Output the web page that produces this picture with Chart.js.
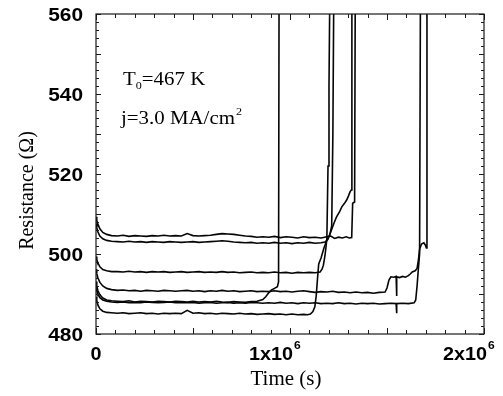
<!DOCTYPE html>
<html>
<head>
<meta charset="utf-8">
<title>Resistance vs time</title>
<script src="https://cdn.jsdelivr.net/npm/chart.js@4.4.1/dist/chart.umd.min.js"></script>
<style>
  html, body { margin: 0; padding: 0; background: #ffffff; }
  #wrap { width: 503px; height: 396px; }
</style>
</head>
<body>
<div id="wrap"><canvas id="chart" width="503" height="396"></canvas></div>
<script>
// Common time grid (s) for the early, stable part of every run
const tBase = [0, 4000, 10000, 20000, 35000, 55000, 80000, 110000, 140000, 170000,
  200000, 230000, 260000, 290000, 320000, 350000, 380000, 410000, 440000, 470000,
  500000, 530000, 560000, 590000, 620000, 650000, 680000, 710000, 740000, 770000,
  800000, 830000, 860000];

// Run 1 (Ω)
const r1 = [509.3, 508.4, 507.4, 506.3, 505.4, 504.9, 504.6, 504.5, 504.7, 504.4,
  504.6, 504.5, 504.4, 504.6, 504.5, 504.7, 504.5, 504.6, 504.5, 505.1,
  504.6, 504.5, 504.6, 504.7, 504.9, 505.1, 505.0, 504.9, 504.7, 504.5,
  504.4, 504.2, 504.3];
const t1Tail = [890000, 920000, 950000, 980000, 1010000, 1040000, 1070000, 1100000, 1130000, 1160000,
  1190000, 1210000, 1230000, 1250000, 1270000, 1290000, 1305000, 1318000, 1323000, 1333000, 1337000];
const r1Tail = [504.2, 504.4, 504.1, 504.3, 504.2, 504.0, 504.3, 504.1, 504.2, 504.0,
  504.3, 504.5, 503.9, 504.2, 504.0, 504.3, 504.0, 504.1, 512.7, 513.0, 575];

// Run 2
const r2 = [507.6, 506.6, 505.5, 504.5, 503.8, 503.4, 503.2, 503.1, 503.0, 503.2,
  503.0, 503.1, 502.9, 503.1, 503.0, 502.9, 503.1, 503.0, 502.9, 503.0,
  503.1, 502.9, 503.0, 503.1, 503.2, 503.3, 503.2, 503.0, 502.9, 502.8,
  502.9, 502.7, 502.8];
const t2Tail = [890000, 920000, 950000, 980000, 1010000, 1040000, 1070000, 1100000, 1130000, 1160000,
  1180000, 1195000, 1210000, 1225000, 1240000, 1255000, 1267000, 1280000, 1292000, 1302000,
  1310000, 1316000, 1319000];
const r2Tail = [502.7, 502.9, 502.7, 502.8, 502.6, 502.8, 502.7, 502.9, 502.7, 502.8,
  503.0, 503.6, 505.5, 507.5, 509.3, 510.5, 511.8, 512.6, 513.5, 514.6,
  515.6, 516.0, 575];

// Run 3
const r3 = [499.4, 498.6, 497.7, 496.8, 496.1, 495.8, 495.6, 495.6, 495.5, 495.7,
  495.5, 495.6, 495.4, 495.6, 495.5, 495.6, 495.4, 495.5, 495.6, 495.4,
  495.5, 495.6, 495.4, 495.5, 495.4, 495.6, 495.4, 495.5, 495.3, 495.4,
  495.5, 495.3, 495.4];
const t3Tail = [890000, 920000, 950000, 980000, 1010000, 1040000, 1070000, 1100000, 1130000, 1155000,
  1165000, 1172000, 1180000, 1185000, 1190000, 1196000, 1201000, 1207000];
const r3Tail = [495.3, 495.5, 495.3, 495.4, 495.2, 495.4, 495.3, 495.4, 495.3, 495.5,
  496.2, 497.2, 499.5, 501.5, 503.8, 522.0, 542.0, 575];

// Run 4
const r4 = [496.2, 495.1, 494.0, 492.9, 492.0, 491.4, 491.1, 490.9, 491.0, 490.8,
  490.9, 490.7, 490.9, 490.8, 490.7, 490.9, 490.8, 490.7, 490.8, 490.9,
  490.7, 490.8, 490.6, 490.8, 490.7, 490.9, 490.7, 490.8, 490.6, 490.7,
  490.8, 490.6, 490.7];
const t4Tail = [890000, 920000, 950000, 980000, 1010000, 1040000, 1070000, 1100000, 1130000, 1160000,
  1190000, 1220000, 1250000, 1280000, 1310000, 1340000, 1370000, 1400000, 1430000, 1460000,
  1490000, 1500000, 1510000, 1520000, 1535000, 1547000, 1549000, 1551000, 1565000, 1580000,
  1595000, 1610000, 1620000, 1630000, 1645000, 1655000, 1662000, 1668000, 1678000, 1690000,
  1698000, 1703000, 1706000];
const r4Tail = [490.6, 490.8, 490.6, 490.7, 490.5, 490.7, 490.8, 490.6, 490.4, 490.6,
  490.5, 490.7, 490.4, 490.5, 490.3, 490.5, 490.3, 490.4, 490.2, 490.4,
  490.5, 491.5, 493.5, 494.3, 494.2, 494.4, 489.5, 494.3, 494.1, 494.4,
  494.2, 494.6, 495.0, 495.5, 495.8, 496.4, 498.5, 501.2, 502.5, 502.8,
  502.2, 501.5, 575];

// Run 5
const r5 = [493.1, 492.0, 490.8, 489.8, 489.0, 488.5, 488.3, 488.2, 488.1, 488.3,
  488.0, 488.2, 488.1, 488.0, 488.2, 488.1, 488.0, 488.2, 488.1, 488.0,
  488.2, 488.0, 488.1, 488.0, 488.2, 488.0, 487.9, 488.1, 488.0, 487.9,
  488.1, 488.2, 488.6];
const t5Tail = [875000, 890000, 905000, 920000, 935000, 941000, 944000];
const r5Tail = [489.3, 490.3, 491.0, 491.4, 491.8, 493.0, 575];

// Run 6
const r6 = [491.8, 490.9, 489.9, 489.1, 488.5, 488.2, 488.0, 487.9, 488.0, 487.8,
  487.9, 487.8, 488.0, 487.9, 487.8, 487.9, 488.0, 487.8, 487.9, 487.8,
  487.9, 487.7, 487.8, 487.9, 487.7, 487.8, 487.9, 487.7, 487.8, 487.7,
  487.9, 487.8, 487.7];
const t6Tail = [890000, 920000, 950000, 980000, 1010000, 1040000, 1070000, 1100000, 1130000, 1160000,
  1190000, 1220000, 1250000, 1280000, 1310000, 1340000, 1370000, 1400000, 1430000, 1460000,
  1490000, 1520000, 1547000, 1549000, 1551000, 1580000, 1610000, 1640000, 1648000, 1655000,
  1662000, 1668000, 1673000];
const r6Tail = [487.8, 487.7, 487.9, 487.7, 487.8, 487.6, 487.8, 487.7, 487.8, 487.6,
  487.7, 487.6, 487.8, 487.6, 487.7, 487.5, 487.7, 487.6, 487.7, 487.5,
  487.6, 487.7, 487.6, 485.2, 487.6, 487.7, 487.6, 487.8, 488.5, 492.0,
  496.5, 500.0, 575];

// Run 7
const r7 = [489.3, 488.3, 487.2, 486.3, 485.7, 485.4, 485.3, 485.2, 485.3, 485.1,
  485.2, 485.3, 485.1, 485.2, 485.0, 485.2, 485.1, 485.2, 485.1, 485.9,
  485.2, 485.3, 485.1, 485.2, 485.0, 485.2, 485.1, 485.0, 485.2, 485.0,
  485.1, 484.9, 485.0];
const t7Tail = [890000, 920000, 950000, 980000, 1010000, 1040000, 1070000, 1090000, 1105000, 1118000,
  1128000, 1135000, 1142000, 1148000, 1160000, 1175000, 1190000, 1205000, 1215000, 1221000, 1227000];
const r7Tail = [485.1, 484.9, 485.0, 484.8, 485.0, 484.8, 484.9, 484.8, 485.0, 485.6,
  486.8, 489.5, 494.0, 497.5, 499.0, 501.5, 503.5, 504.8, 507.0, 530.0, 575];

// Axis ranges and labels
const xMin = 0, xMax = 2000000;
const yMin = 480, yMax = 560;
const yTickValues = [480, 500, 520, 540, 560];
const xTickValues = [0, 1000000, 2000000];
const xTickMantissa = ['0', '1x10', '2x10'];
const xTickExponent = ['', '6', '6'];
const xTitle = 'Time (s)';
const yTitle = 'Resistance (\u03A9)';

const runs = [
  [r1, t1Tail, r1Tail], [r2, t2Tail, r2Tail], [r3, t3Tail, r3Tail], [r4, t4Tail, r4Tail],
  [r5, t5Tail, r5Tail], [r6, t6Tail, r6Tail], [r7, t7Tail, r7Tail]
];

function buildPoints(base, tailT, tailR) {
  const pts = [];
  const n = Math.min(tBase.length, base.length);
  for (let i = 0; i < n; i++) pts.push({ x: tBase[i], y: base[i] });
  const m = Math.min(tailT.length, tailR.length);
  for (let i = 0; i < m; i++) pts.push({ x: tailT[i], y: tailR[i] });
  return pts;
}

const datasets = runs.map((r, i) => ({
  label: 'run ' + (i + 1),
  data: buildPoints(r[0], r[1], r[2]),
  borderColor: '#050505',
  borderWidth: 1.6,
  pointRadius: 0,
  tension: 0,
  fill: false
}));

const SERIF = '"Liberation Serif", "Times New Roman", serif';
const SANS = '"Liberation Sans", Arial, sans-serif';

// Frame, inward ticks on all four sides, tick labels, titles and notes
const decorations = {
  id: 'decorations',
  afterDatasetsDraw(chart) {
    const { ctx, chartArea: a, scales } = chart;
    const xs = scales.x, ys = scales.y;
    ctx.save();

    ctx.strokeStyle = '#1a1a1a';
    ctx.lineWidth = 1.2;
    ctx.strokeRect(a.left, a.top, a.right - a.left, a.bottom - a.top);

    ctx.lineWidth = 1;
    ctx.beginPath();
    for (let v = yMin; v <= yMax; v += 2) {
      const py = Math.round(ys.getPixelForValue(v)) + 0.5;
      const len = (v % 10 === 0) ? 5 : 3;
      ctx.moveTo(a.left, py); ctx.lineTo(a.left + len, py);
      ctx.moveTo(a.right, py); ctx.lineTo(a.right - len, py);
    }
    for (let k = 0; k <= 20; k++) {
      const px = Math.round(xs.getPixelForValue(k * 100000)) + 0.5;
      const len = (k % 5 === 0) ? 6 : 4;
      ctx.moveTo(px, a.bottom); ctx.lineTo(px, a.bottom - len);
      ctx.moveTo(px, a.top); ctx.lineTo(px, a.top + len);
    }
    ctx.stroke();

    ctx.fillStyle = '#000';

    // y tick labels
    ctx.font = 'bold 19px ' + SANS;
    ctx.textAlign = 'right';
    ctx.textBaseline = 'alphabetic';
    yTickValues.forEach(v => {
      const py = ys.getPixelForValue(v);
      ctx.save();
      ctx.translate(a.left - 13, py + 7);
      ctx.scale(1.1, 1);
      ctx.fillText(String(v), 0, 0);
      ctx.restore();
    });

    // x tick labels with power-of-ten exponent
    xTickValues.forEach((v, i) => {
      const px = xs.getPixelForValue(v);
      ctx.save();
      ctx.font = 'bold 18px ' + SANS;
      if (!xTickExponent[i]) {
        ctx.translate(px, a.bottom + 26);
        ctx.scale(1.1, 1);
        ctx.textAlign = 'center';
        ctx.fillText(xTickMantissa[i], 0, 0);
      } else {
        ctx.translate(px + 3, a.bottom + 26);
        ctx.scale(1.1, 1);
        ctx.textAlign = 'right';
        ctx.fillText(xTickMantissa[i], 0, 0);
        ctx.font = 'bold 11px ' + SANS;
        ctx.textAlign = 'left';
        ctx.fillText(xTickExponent[i], 1, -11);
      }
      ctx.restore();
    });

    // axis titles
    ctx.font = '20px ' + SERIF;
    ctx.textAlign = 'center';
    ctx.save();
    ctx.translate((a.left + a.right) / 2 - 4, 385);
    ctx.scale(1.05, 1);
    ctx.fillText(xTitle, 0, 0);
    ctx.restore();

    ctx.save();
    ctx.translate(32.5, 190.5);
    ctx.rotate(-Math.PI / 2);
    ctx.fillText(yTitle, 0, 0);
    ctx.restore();

    // conditions of the test
    ctx.textAlign = 'left';
    ctx.save();
    ctx.translate(123, 85);
    ctx.scale(1.1, 1);
    ctx.font = '19px ' + SERIF;
    let w = 0;
    ctx.fillText('T', w, 0); w += ctx.measureText('T').width;
    ctx.font = '11px ' + SERIF;
    ctx.fillText('0', w, 4); w += ctx.measureText('0').width;
    ctx.font = '19px ' + SERIF;
    ctx.fillText('=467 K', w, 0);
    ctx.restore();

    ctx.save();
    ctx.translate(121, 124);
    ctx.scale(1.1, 1);
    ctx.font = '19px ' + SERIF;
    const s = 'j=3.0 MA/cm';
    ctx.fillText(s, 0, 0);
    const sw = ctx.measureText(s).width;
    ctx.font = '11px ' + SERIF;
    ctx.fillText('2', sw + 1, -9);
    ctx.restore();

    ctx.restore();
  }
};

new Chart(document.getElementById('chart'), {
  type: 'line',
  data: { datasets },
  options: {
    responsive: false,
    animation: false,
    devicePixelRatio: 1,
    layout: { padding: { top: 14, right: 19, left: 0, bottom: 0 } },
    plugins: { legend: { display: false }, tooltip: { enabled: false } },
    scales: {
      x: {
        type: 'linear', min: xMin, max: xMax,
        ticks: { display: false },
        grid: { display: false, drawTicks: false },
        border: { display: false },
        afterFit: s => { s.height = 62; }
      },
      y: {
        type: 'linear', min: yMin, max: yMax,
        ticks: { display: false },
        grid: { display: false, drawTicks: false },
        border: { display: false },
        afterFit: s => { s.width = 96; }
      }
    }
  },
  plugins: [decorations]
});
</script>
</body>
</html>
